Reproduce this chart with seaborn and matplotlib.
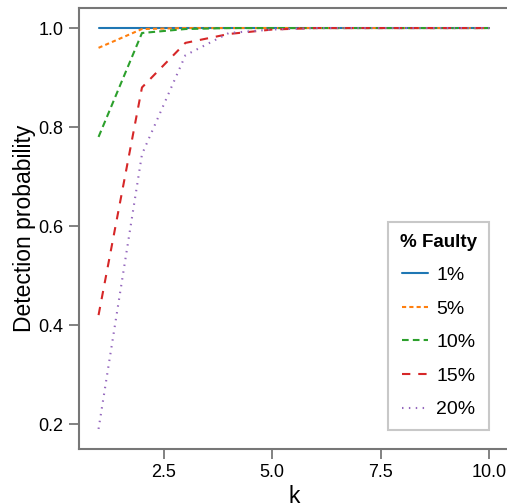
import matplotlib
matplotlib.use("Agg")
import matplotlib.pyplot as plt
import seaborn as sns
import pandas as pd

k_values = [1, 2, 3, 4, 5, 6, 7, 8, 9, 10]
faulty_labels = ["1%", "5%", "10%", "15%", "20%"]
p_1 = [1.0, 1.0, 1.0, 1.0, 1.0, 1.0, 1.0, 1.0, 1.0, 1.0]
p_5 = [0.96, 0.998, 1.0, 1.0, 1.0, 1.0, 1.0, 1.0, 1.0, 1.0]
p_10 = [0.78, 0.99, 0.998, 1.0, 1.0, 1.0, 1.0, 1.0, 1.0, 1.0]
p_15 = [0.42, 0.88, 0.97, 0.988, 0.997, 1.0, 1.0, 1.0, 1.0, 1.0]
p_20 = [0.19, 0.745, 0.945, 0.99, 0.997, 1.0, 1.0, 1.0, 1.0, 1.0]

series = [p_1, p_5, p_10, p_15, p_20]
rows = []
for lab, vals in zip(faulty_labels, series):
    for k, v in zip(k_values, vals):
        rows.append({"k": k, "Detection probability": v, "% Faulty": lab})
df = pd.DataFrame(rows)

sns.set_style("ticks")
plt.rcParams["font.family"] = ["Liberation Sans", "DejaVu Sans"]
plt.rcParams["text.color"] = "black"
plt.rcParams["axes.labelcolor"] = "black"
plt.rcParams["xtick.labelcolor"] = "black"
plt.rcParams["ytick.labelcolor"] = "black"

fig = plt.figure(figsize=(5.07, 5.04), dpi=100)
ax = fig.add_axes([79 / 507, 55 / 504, 430 / 507, 441 / 504])

palette = ["#1f77b4", "#ff7f0e", "#2ca02c", "#d62728", "#9467bd"]
dashes = ["", (2.0, 1.5), (3.2, 2.0), (4.0, 3.8), (0.7, 2.6)]
sns.lineplot(data=df, x="k", y="Detection probability", hue="% Faulty",
             style="% Faulty", hue_order=faulty_labels, style_order=faulty_labels,
             palette=palette, dashes=dashes, linewidth=1.5, ax=ax, legend="full")

ax.set_xticks([2.5, 5.0, 7.5, 10.0])
ax.set_yticks([0.2, 0.4, 0.6, 0.8, 1.0])
ax.set_xlabel("k", fontsize=16.5, labelpad=3, color="black")
ax.set_ylabel("Detection probability", fontsize=16.5, labelpad=2, color="black")
ax.tick_params(axis="both", labelsize=13, length=7, width=1.3, color="#777777",
               labelcolor="black", direction="out", pad=4)
for s in ax.spines.values():
    s.set_color("#777777")
    s.set_linewidth(1.5)

leg = ax.legend(title="% Faulty", loc="lower right", bbox_to_anchor=(0.953, 0.043),
                fontsize=14, title_fontproperties={"weight": "bold", "size": 13.5},
                frameon=True, fancybox=False, handlelength=1.35, handletextpad=0.4,
                labelspacing=0.82, borderpad=0.6, borderaxespad=0.0)
leg.get_frame().set_edgecolor("#bbbbbb")
leg.get_frame().set_linewidth(1.5)
for t in leg.get_texts():
    t.set_color("black")
leg.get_title().set_color("black")

fig.savefig("out.png", dpi=100)
